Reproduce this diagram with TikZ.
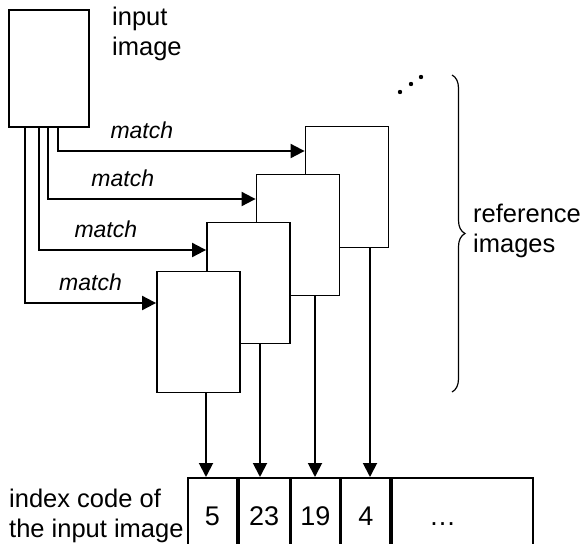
\documentclass[tikz,border=0pt]{standalone}
\usepackage{fontspec}
\setmainfont{Liberation Sans}
\usetikzlibrary{arrows.meta,calc,decorations.pathreplacing}

\begin{document}
\begin{tikzpicture}[x=1pt,y=-1pt,
    img/.style={draw,line width=1.8pt,fill=white,inner sep=0pt,minimum width=83pt,minimum height=121pt},
    cell/.style={draw,line width=1.8pt,inner sep=0pt,minimum height=68pt,text height=28pt,text depth=0pt,
      font=\fontsize{27}{30}\selectfont},
    arr/.style={line width=1.9pt,-{Triangle[length=14pt,width=14pt]}},
    lbl/.style={font=\fontsize{25.5}{30}\selectfont,align=left,inner sep=0pt},
    mlbl/.style={font=\itshape\fontsize{23}{27}\selectfont,above=11pt,inner sep=0pt}]
\useasboundingbox (0,0) rectangle (582,544);

% Input image
\node[img,minimum width=80pt,minimum height=117pt] (inimg) at (49,68.5) {};
\node[lbl,anchor=base west] (inlbl) at (112,55) {input\\image};

% Reference images, back to front
\node[img] (refD) at (347,187) {};
\node[img] (refC) at (298,235) {};
\node[img] (refB) at (248.5,283) {};
\node[img] (refA) at (198.5,332) {};
\foreach \p in {(400,92),(411,84),(421,77)}
    \fill \p circle (2.2pt);

% Matching
\foreach \r/\x/\y/\p in {D/58/151/0.67, C/48/199/0.68, B/39/250/0.70, A/25/303/0.75}
    \draw[arr] (inimg.south -| \x,0) |- (ref\r.west |- 0,\y) node[mlbl,pos=\p] (m\r) {match};

% Brace
\draw[line width=1.2pt,decorate,decoration={brace,amplitude=13pt}] (452,75) -- (452,392);
\node[lbl,anchor=base west] (reflbl) at (473,252) {reference\\images};

% Index code
\node[cell,minimum width=49pt,anchor=north west] (c1) at (187,477) {5};
\node[cell,minimum width=51pt,anchor=west] (c2) at (c1.east) {23};
\node[cell,minimum width=48pt,anchor=west] (c3) at (c2.east) {19};
\node[cell,minimum width=49pt,anchor=west] (c4) at (c3.east) {4};
\node[cell,minimum width=141pt,anchor=west] (c5) at (c4.east) {\dots\hspace*{40pt}};
\node[lbl,anchor=base west] (idxlbl) at (9,537) {index code of\\the input image};
\foreach \r/\c/\x in {A/c1/206, B/c2/260, C/c3/315, D/c4/370}
    \draw[arr] (ref\r.south -| \x,0) -- (\c.north -| \x,0);
\end{tikzpicture}
\end{document}
